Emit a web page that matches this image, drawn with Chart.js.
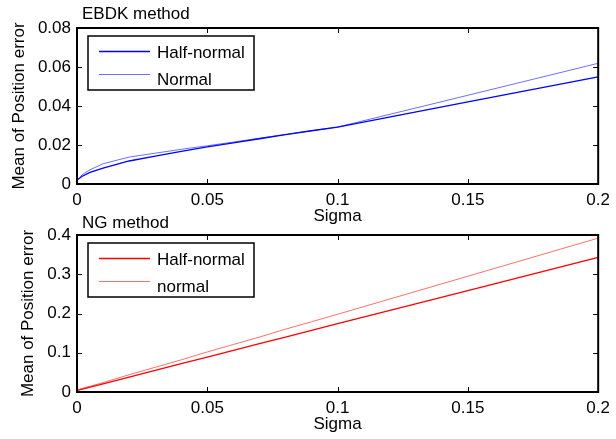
<!DOCTYPE html>
<html>
<head>
<meta charset="utf-8">
<script src="https://cdn.jsdelivr.net/npm/chart.js@4/dist/chart.umd.min.js"></script>
<style>
  body { margin: 0; background: #fff; }
  #wrap { position: relative; width: 616px; height: 439px; overflow: hidden; }
  canvas { position: absolute; left: 0; }
</style>
</head>
<body>
<div id="wrap">
  <canvas id="ebdkChart" width="616" height="232" style="top:0px"></canvas>
  <canvas id="ngChart" width="616" height="239" style="top:200px"></canvas>
</div>
<script>
// Sigma values (x axis), shared by both plots
const sigma = [0, 0.002, 0.005, 0.01, 0.02, 0.03, 0.04, 0.05, 0.06, 0.07, 0.08, 0.09, 0.1, 0.15, 0.2];

// EBDK method
const ebdkHalfNormal = [0.0020, 0.0040, 0.0060, 0.0082, 0.0118, 0.0143, 0.0167, 0.0190, 0.0211, 0.0232, 0.0253, 0.0273, 0.0292, 0.0421, 0.0549];
const ebdkNormal     = [0.0015, 0.0048, 0.0073, 0.0104, 0.0138, 0.0158, 0.0178, 0.0196, 0.0215, 0.0235, 0.0254, 0.0273, 0.0292, 0.0455, 0.0619];

// NG method
const ngHalfNormal = [0.004, 0.0075, 0.0125, 0.021, 0.038, 0.055, 0.072, 0.089, 0.106, 0.123, 0.140, 0.157, 0.174, 0.258, 0.343];
const ngNormal     = [0.005, 0.009, 0.0145, 0.024, 0.044, 0.063, 0.082, 0.102, 0.121, 0.140, 0.160, 0.179, 0.198, 0.295, 0.392];

const xTicks = { min: 0, max: 0.2, step: 0.05 };
const ebdkYTicks = { min: 0, max: 0.08, step: 0.02 };
const ngYTicks = { min: 0, max: 0.4, step: 0.1 };

const FONT = '"Liberation Sans", Arial, Helvetica, sans-serif';
const FSIZE = 17;

function pts(xs, ys) {
    return xs.map(function (x, i) { return { x: x, y: ys[i] }; });
}

function fmt(v) {
    return String(+Number(v).toFixed(4));
}

// MATLAB-like box: frame, inward ticks, title and boxed legend inside the axes
const matlabBox = {
    id: 'matlabBox',
    afterDraw(chart, args, opts) {
        const ctx = chart.ctx;
        const a = chart.chartArea;
        const xs = chart.scales.x, ys = chart.scales.y;
        ctx.save();

        // inward ticks on all four sides
        ctx.strokeStyle = '#000';
        ctx.lineWidth = 1;
        ctx.beginPath();
        xs.ticks.forEach(function (t) {
            const px = Math.round(xs.getPixelForValue(t.value)) + 0.5;
            ctx.moveTo(px, a.bottom); ctx.lineTo(px, a.bottom - 5);
            ctx.moveTo(px, a.top); ctx.lineTo(px, a.top + 5);
        });
        ys.ticks.forEach(function (t) {
            const py = Math.round(ys.getPixelForValue(t.value)) + 0.5;
            ctx.moveTo(a.left, py); ctx.lineTo(a.left + 5, py);
            ctx.moveTo(a.right, py); ctx.lineTo(a.right - 5, py);
        });
        ctx.stroke();

        // frame
        ctx.lineWidth = 2;
        ctx.strokeRect(a.left, a.top, a.right - a.left, a.bottom - a.top);

        // title
        ctx.fillStyle = '#000';
        ctx.font = FSIZE + 'px ' + FONT;
        ctx.textBaseline = 'alphabetic';
        ctx.textAlign = 'left';
        ctx.fillText(opts.title, a.left + 5, a.top - opts.titleGap);

        // legend
        const bx = a.left + 11, by = a.top + 8, bw = 166, bh = 54;
        ctx.fillStyle = '#fff';
        ctx.fillRect(bx, by, bw, bh);
        ctx.lineWidth = 1.5;
        ctx.strokeStyle = '#000';
        ctx.strokeRect(bx, by, bw, bh);
        const lineY = [15.5, 38.5];
        const textY = [22, 48.5];
        chart.data.datasets.forEach(function (ds, i) {
            ctx.strokeStyle = ds.borderColor;
            ctx.lineWidth = ds.borderWidth;
            ctx.beginPath();
            ctx.moveTo(bx + 11, by + lineY[i]);
            ctx.lineTo(bx + 62, by + lineY[i]);
            ctx.stroke();
            ctx.fillStyle = '#000';
            ctx.fillText(ds.label, bx + 69, by + textY[i]);
        });
        ctx.restore();
    }
};

function makeChart(id, opts) {
    const ctx = document.getElementById(id).getContext('2d');
    return new Chart(ctx, {
        type: 'line',
        data: {
            datasets: [{
                label: opts.labels[0],
                data: pts(sigma, opts.series[0]),
                borderColor: opts.colors[0],
                borderWidth: 1.3,
                pointRadius: 0,
                tension: 0
            }, {
                label: opts.labels[1],
                data: pts(sigma, opts.series[1]),
                borderColor: opts.colors[1],
                borderWidth: 1,
                pointRadius: 0,
                tension: 0
            }]
        },
        options: {
            responsive: false,
            animation: false,
            layout: { padding: { left: 0, right: 12, top: opts.top, bottom: 0 } },
            plugins: {
                legend: { display: false },
                tooltip: { enabled: false },
                matlabBox: { title: opts.title, titleGap: opts.titleGap }
            },
            scales: {
                x: {
                    type: 'linear',
                    min: xTicks.min,
                    max: xTicks.max,
                    grid: { display: false, drawTicks: false },
                    border: { display: false },
                    ticks: {
                        stepSize: xTicks.step,
                        padding: 6,
                        color: '#000',
                        maxRotation: 0,
                        font: { family: FONT, size: FSIZE },
                        callback: fmt
                    },
                    title: {
                        display: true,
                        text: 'Sigma',
                        color: '#000',
                        padding: { top: 0, bottom: opts.xTitlePad },
                        font: { family: FONT, size: FSIZE }
                    },
                    afterFit: function (scale) { scale.height = opts.xHeight; }
                },
                y: {
                    min: opts.yTicks.min,
                    max: opts.yTicks.max,
                    grid: { display: false, drawTicks: false },
                    border: { display: false },
                    ticks: {
                        stepSize: opts.yTicks.step,
                        padding: 6,
                        color: '#000',
                        font: { family: FONT, size: FSIZE },
                        callback: fmt
                    },
                    title: {
                        display: true,
                        text: 'Mean of Position error',
                        color: '#000',
                        padding: { top: opts.yTitlePad, bottom: 0 },
                        font: { family: FONT, size: FSIZE }
                    },
                    afterFit: function (scale) { scale.width = 77; }
                }
            }
        },
        plugins: [matlabBox]
    });
}

document.addEventListener('DOMContentLoaded', function () {
    makeChart('ebdkChart', {
        title: 'EBDK method',
        titleGap: 9,
        labels: ['Half-normal', 'Normal'],
        series: [ebdkHalfNormal, ebdkNormal],
        colors: ['#0000ff', '#6f6fff'],
        yTicks: ebdkYTicks,
        top: 28,
        xHeight: 48,
        xTitlePad: 5,
        yTitlePad: 9
    });

    makeChart('ngChart', {
        title: 'NG method',
        titleGap: 7,
        labels: ['Half-normal', 'normal'],
        series: [ngHalfNormal, ngNormal],
        colors: ['#ff0000', '#ff7070'],
        yTicks: ngYTicks,
        top: 35,
        xHeight: 47,
        xTitlePad: 4,
        yTitlePad: 18
    });
});
</script>
</body>
</html>
